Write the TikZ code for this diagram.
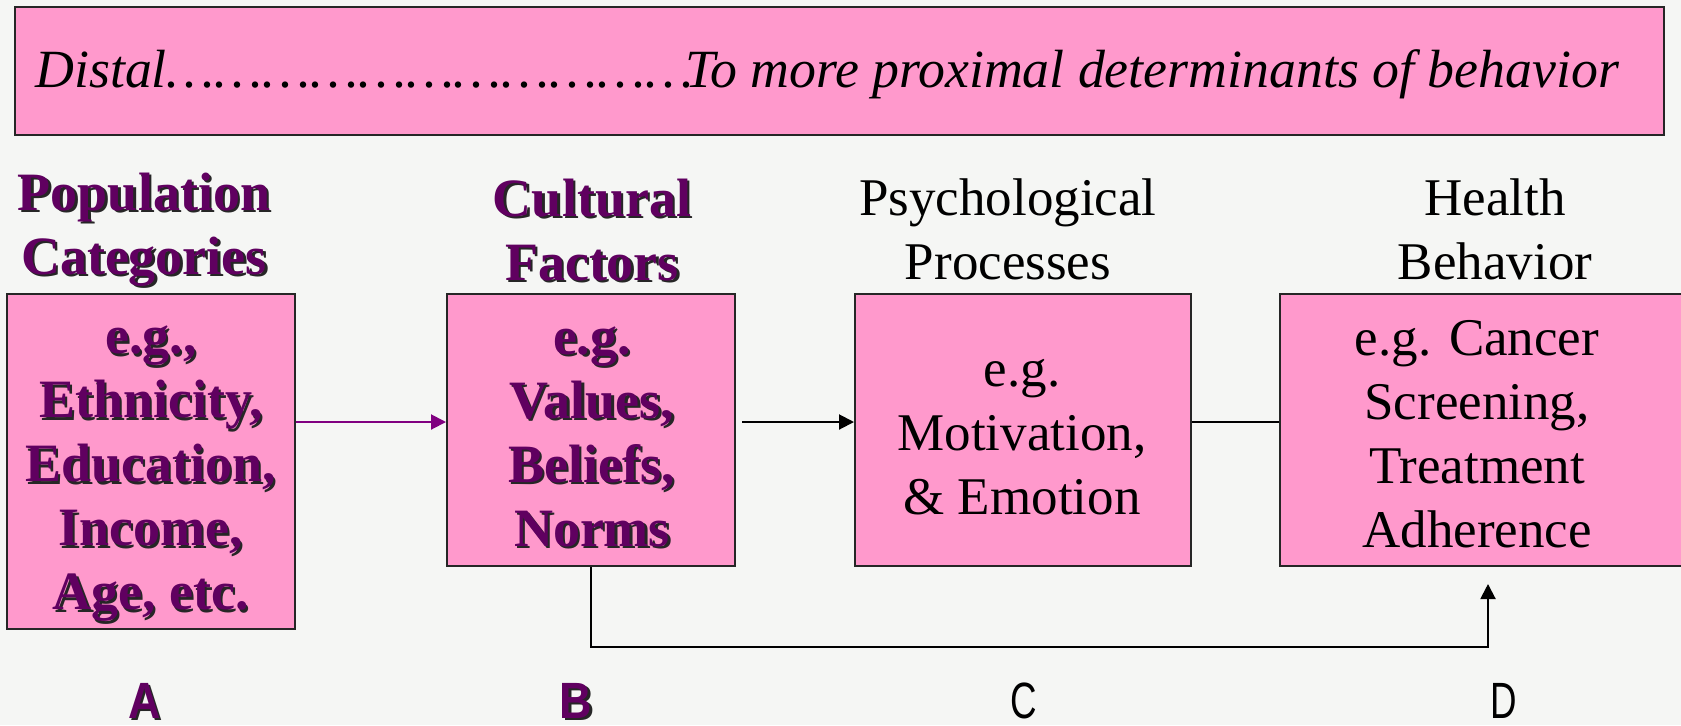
\documentclass[tikz,border=0pt]{standalone}
\usepackage{fontspec}
\setmainfont{Liberation Serif}
\newfontfamily\narrowsf[FakeStretch=0.72]{Liberation Sans}
\newfontfamily\narrowbf[FakeStretch=0.88]{Liberation Sans Bold}
\usetikzlibrary{arrows.meta}
\definecolor{boxpink}{RGB}{255,153,204}
\definecolor{plum}{RGB}{96,0,96}
\definecolor{arrowplum}{RGB}{128,0,128}
\definecolor{paper}{RGB}{245,246,244}
\tikzset{
  every node/.style={inner sep=0pt},
  txt/.style={font={\fontsize{26.5pt}{32pt}\selectfont}, align=center},
  box/.style={draw=black!85, line width=1pt, fill=boxpink},
  boldtxt/.style={txt, font={\fontsize{27pt}{32pt}\selectfont\bfseries}, text=plum},
  shadetxt/.style={boldtxt, text=black!85, xshift=1.1pt, yshift=-1.1pt},
  letter/.style={font={\fontsize{25.5pt}{26pt}\selectfont\narrowsf}},
  boldletter/.style={font={\fontsize{25.5pt}{26pt}\selectfont\narrowbf}, text=plum},
  shadeletter/.style={boldletter, text=black!85, xshift=1.1pt, yshift=-1.1pt},
  link/.style={line width=1pt, -{Triangle[length=7.5pt,width=7.5pt]}}
}
% text with a drop shadow: name, position, style, text
\newcommand{\shadowtext}[4]{%
  \node[shade#3] at (#2) {#4};
  \node[bold#3] (#1) at (#2) {#4};}

\begin{document}
\begin{tikzpicture}[x=0.5pt, y=-0.5pt]
\useasboundingbox (0,0) rectangle (1681,725);
\clip (0,0) rectangle (1681,725);
\fill[paper] (0,0) rectangle (1681,725);

% banner
\node[box, minimum width=824.5pt, minimum height=64pt] (banner) at (839.5,71) {};
\node[txt, anchor=west, font={\fontsize{26.9pt}{32pt}\selectfont}] (distal) at (35,74)
  {\itshape Distal……………………………\kern-4pt To more proximal determinants of behavior};

% boxes
\node[box, minimum width=144pt, minimum height=167.5pt] (boxA) at (151,461.5) {};
\node[box, minimum width=144pt, minimum height=136pt] (boxB) at (591,430) {};
\node[box, minimum width=168pt, minimum height=136pt] (boxC) at (1023,430) {};
\node[box, minimum width=210pt, minimum height=136pt] (boxD) at (1490,430) {};

% headings
\shadowtext{hdrA}{144,230}{txt}{Population\\Categories}
\shadowtext{hdrB}{592,230}{txt}{Cultural\\Factors}
\node[txt] (hdrC) at (1008,229) {Psychological\\Processes};
\node[txt] (hdrD) at (1495,229) {Health\\Behavior};

% box contents
\shadowtext{txtA}{151,474}{txt}{e.g.,\\Ethnicity,\\Education,\\Income,\\Age, etc.}
\shadowtext{txtB}{592,437}{txt}{e.g.\\Values,\\Beliefs,\\Norms}
\node[txt] (txtC) at (1022,437) {e.g.\\Motivation,\\\& Emotion};
\node[txt] (txtD) at (1477,434) {e.g. Cancer\\Screening,\\Treatment\\Adherence};

% column letters
\shadowtext{letA}{145,701}{letter}{A}
\shadowtext{letB}{576,701}{letter}{B}
\node[letter] (letC) at (1024,701) {C};
\node[letter] (letD) at (1504,701) {D};

% connectors
\coordinate (row) at (0,422);
\coordinate (bcstart) at (742,422);
\coordinate (loopR) at (1488,647);
\coordinate (tipD) at (1488,584);
\draw[link, arrowplum] (boxA.east |- row) -- (boxB.west |- row);
\draw[link] (bcstart) -- (boxC.west |- row);
\draw[line width=1pt] (boxC.east |- row) -- (boxD.west |- row);
\draw[link] (boxB.south) -- (boxB.south |- loopR) -- (loopR) -- (tipD);
\end{tikzpicture}
\end{document}
